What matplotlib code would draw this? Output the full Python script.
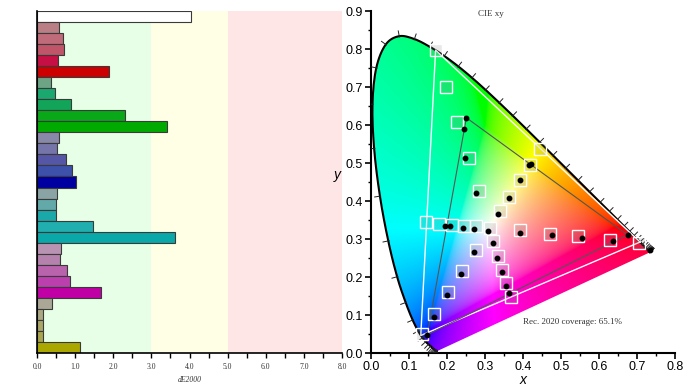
import numpy as np
import matplotlib
matplotlib.use("Agg")
import matplotlib.pyplot as plt
from matplotlib.patches import Polygon
from matplotlib.ticker import MultipleLocator

# dE2000 per patch, top to bottom
de_values = [4.03,
             0.58, 0.67, 0.72, 0.54, 1.90,
             0.36, 0.47, 0.89, 2.31, 3.40,
             0.58, 0.53, 0.77, 0.93, 1.03,
             0.53, 0.49, 0.49, 1.47, 3.62,
             0.64, 0.60, 0.78, 0.86, 1.67,
             0.39, 0.17, 0.15, 0.15, 1.13]
bar_colors = ['#ffffff',
              '#b97f85', '#bf6b79', '#c05468', '#c50f45', '#cc0000',
              '#6ea486', '#1aa86e', '#12a55a', '#08a818', '#00aa00',
              '#8888a8', '#7575a9', '#5656a6', '#3d50aa', '#0000a0',
              '#8aa4a6', '#64a9a9', '#1aa9a9', '#20aeae', '#0aa8a8',
              '#b994b2', '#b581ad', '#b863ac', '#bb40ae', '#c000a5',
              '#aaa796', '#aaa782', '#a9a668', '#a9a54f', '#aaa700']

# CIE 1931 spectral locus, 380-700 nm every 5 nm
locus_x = [0.1741, 0.1740, 0.1738, 0.1736, 0.1733, 0.1730, 0.1726, 0.1721, 0.1714, 0.1703,
           0.1689, 0.1669, 0.1644, 0.1611, 0.1566, 0.1510, 0.1440, 0.1355, 0.1241, 0.1096,
           0.0913, 0.0687, 0.0454, 0.0235, 0.0082, 0.0039, 0.0139, 0.0389, 0.0743, 0.1142,
           0.1547, 0.1929, 0.2296, 0.2658, 0.3016, 0.3373, 0.3731, 0.4087, 0.4441, 0.4788,
           0.5125, 0.5448, 0.5752, 0.6029, 0.6270, 0.6482, 0.6658, 0.6801, 0.6915, 0.7006,
           0.7079, 0.7140, 0.7190, 0.7230, 0.7260, 0.7283, 0.7300, 0.7311, 0.7320, 0.7327,
           0.7334, 0.7340, 0.7344, 0.7346, 0.7347]
locus_y = [0.0050, 0.0050, 0.0049, 0.0049, 0.0048, 0.0048, 0.0048, 0.0048, 0.0051, 0.0058,
           0.0069, 0.0086, 0.0109, 0.0138, 0.0177, 0.0227, 0.0297, 0.0399, 0.0578, 0.0868,
           0.1327, 0.2007, 0.2950, 0.4127, 0.5384, 0.6548, 0.7502, 0.8120, 0.8338, 0.8262,
           0.8059, 0.7816, 0.7543, 0.7243, 0.6923, 0.6589, 0.6245, 0.5896, 0.5547, 0.5202,
           0.4866, 0.4544, 0.4242, 0.3965, 0.3725, 0.3514, 0.3340, 0.3197, 0.3083, 0.2993,
           0.2920, 0.2859, 0.2809, 0.2770, 0.2740, 0.2717, 0.2700, 0.2689, 0.2680, 0.2673,
           0.2666, 0.2660, 0.2656, 0.2654, 0.2653]

rec2020_x = [0.708, 0.170, 0.131]
rec2020_y = [0.292, 0.797, 0.046]
gamut_x = [0.675, 0.251, 0.148]
gamut_y = [0.311, 0.619, 0.048]

target_x = [0.170, 0.198, 0.226, 0.257, 0.283, 0.445, 0.418, 0.392, 0.364, 0.340,
            0.145, 0.179, 0.214, 0.246, 0.277, 0.313, 0.391, 0.472, 0.544, 0.629,
            0.705, 0.322, 0.275, 0.335, 0.240, 0.346, 0.356, 0.368, 0.203, 0.167, 0.133]
target_y = [0.797, 0.700, 0.607, 0.513, 0.426, 0.536, 0.496, 0.454, 0.411, 0.373,
            0.345, 0.340, 0.338, 0.335, 0.333, 0.329, 0.323, 0.314, 0.307, 0.298,
            0.290, 0.294, 0.272, 0.256, 0.216, 0.218, 0.184, 0.148, 0.160, 0.103, 0.049]
meas_x = [0.251, 0.245, 0.247, 0.277, 0.417, 0.420, 0.392, 0.362, 0.335, 0.196,
          0.207, 0.241, 0.272, 0.307, 0.391, 0.477, 0.555, 0.638, 0.675, 0.733,
          0.321, 0.272, 0.331, 0.236, 0.344, 0.356, 0.364, 0.200, 0.165, 0.148]
meas_y = [0.619, 0.590, 0.514, 0.421, 0.496, 0.498, 0.454, 0.408, 0.367, 0.335,
          0.333, 0.329, 0.326, 0.321, 0.317, 0.310, 0.302, 0.295, 0.310, 0.270,
          0.289, 0.266, 0.250, 0.209, 0.212, 0.176, 0.158, 0.152, 0.096, 0.048]

serif = ['Liberation Serif', 'DejaVu Serif']
sans = ['Liberation Sans', 'DejaVu Sans']


def smooth_curve(px, py, steps=8):
    # Catmull-Rom through the locus points so the outline has no corners
    p = np.column_stack([px, py])
    p = np.vstack([p[:1], p, p[-1:]])
    out = []
    for i in range(1, len(p) - 2):
        p0, p1, p2, p3 = p[i - 1], p[i], p[i + 1], p[i + 2]
        for t in np.linspace(0, 1, steps, endpoint=False):
            out.append(0.5 * (2 * p1 + (-p0 + p2) * t
                              + (2 * p0 - 5 * p1 + 4 * p2 - p3) * t ** 2
                              + (-p0 + 3 * p1 - 3 * p2 + p3) * t ** 3))
    out.append(p[-2])
    out = np.array(out)
    return out[:, 0], out[:, 1]


fig = plt.figure(figsize=(6.93, 3.90), dpi=100)

# ---- left: dE2000 bars ----
ax1 = fig.add_axes([37 / 693, 37 / 390, 305 / 693, 342 / 390])
ax1.axvspan(0, 3, color='#e6ffe6', zorder=0, lw=0)
ax1.axvspan(3, 5, color='#ffffe6', zorder=0, lw=0)
ax1.axvspan(5, 8, color='#ffe6e6', zorder=0, lw=0)
n = len(de_values)
pos = np.arange(n)[::-1]
ax1.barh(pos, de_values, height=1.0, color=bar_colors, edgecolor='#3a3a3a',
         linewidth=0.8, zorder=2)
ax1.set_xlim(0, 8)
ax1.set_ylim(-0.5, n - 0.5)
ax1.set_yticks([])
ax1.set_xticks(np.arange(0, 9, 1))
ax1.set_xticklabels(['%.1f' % v for v in range(9)], fontfamily=serif, fontsize=5.5,
                    color='#333333')
ax1.xaxis.set_minor_locator(MultipleLocator(0.5))
ax1.tick_params(axis='x', which='both', length=3.5, width=1, direction='out', pad=4)
ax1.set_xlabel('dE2000', fontfamily=serif, fontstyle='italic', fontsize=5.5,
               color='#333333', labelpad=3)
for s in ['top', 'right']:
    ax1.spines[s].set_visible(False)
for s in ['left', 'bottom']:
    ax1.spines[s].set_linewidth(1.2)

# ---- right: CIE xy diagram ----
ax2 = fig.add_axes([371 / 693, 37 / 390, 304 / 693, 342 / 390])
lx = np.array(locus_x)
ly = np.array(locus_y)
sx, sy = smooth_curve(lx, ly)

gx, gy = np.meshgrid(np.linspace(0, 0.8, 400), np.linspace(0, 0.9, 450))
gy_safe = np.maximum(gy, 1e-4)
X = gx / gy_safe
Y = np.ones_like(gx)
Z = (1 - gx - gy) / gy_safe
M = np.array([[3.2406, -1.5372, -0.4986],
              [-0.9689, 1.8758, 0.0415],
              [0.0557, -0.2040, 1.0570]])
rgb = np.einsum('ij,jkl->kli', M, np.stack([X, Y, Z]))
# pull out-of-gamut colours partly towards white, clip the rest
rgb = rgb - 0.5 * np.minimum(rgb.min(axis=2, keepdims=True), 0)
rgb = np.clip(rgb, 0, None)
rgb = rgb / np.maximum(rgb.max(axis=2, keepdims=True), 1e-6)
rgb = np.where(rgb <= 0.0031308, 12.92 * rgb, 1.055 * rgb ** (1 / 2.4) - 0.055)
rgb = np.clip(rgb, 0, 1)

poly = Polygon(np.column_stack([sx, sy]), closed=True, facecolor='none',
               edgecolor='none', transform=ax2.transData)
ax2.add_patch(poly)
im = ax2.imshow(rgb, origin='lower', extent=[0, 0.8, 0, 0.9], aspect='auto',
                interpolation='bilinear', zorder=1)
im.set_clip_path(poly)

ax2.plot(sx, sy, color='black', lw=1.5, zorder=3, solid_capstyle='butt')

# wavelength ticks along the locus
dx = np.gradient(lx)
dy = np.gradient(ly)
norm = np.hypot(dx, dy)
norm[norm == 0] = 1
nx = -dy / norm
ny = dx / norm
for i in range(len(lx)):
    ax2.plot([lx[i] - 0.002 * nx[i], lx[i] + 0.014 * nx[i]],
             [ly[i] - 0.002 * ny[i], ly[i] + 0.014 * ny[i]],
             color='#222222', lw=0.7, zorder=3)

ax2.plot(rec2020_x + rec2020_x[:1], rec2020_y + rec2020_y[:1], color='white',
         lw=1.0, zorder=4)
ax2.plot(gamut_x + gamut_x[:1], gamut_y + gamut_y[:1], color='#555555',
         lw=0.8, zorder=4)
ax2.plot(target_x, target_y, ls='none', marker='s', markersize=8,
         markerfacecolor=(0.5, 0.5, 0.5, 0.18), markeredgecolor='white',
         markeredgewidth=1.0, zorder=5)
ax2.plot(meas_x, meas_y, ls='none', marker='o', markersize=3.2, color='black',
         zorder=6)

ax2.text(0.315, 0.893, 'CIE xy', ha='center', va='center', fontfamily=serif,
         fontsize=6.5, color='#333333')
ax2.text(0.400, 0.081, 'Rec. 2020 coverage: 65.1%', ha='left', va='center',
         fontfamily=serif, fontsize=6.5, color='#333333')

ax2.set_xlim(0, 0.8)
ax2.set_ylim(0, 0.9)
ax2.set_xticks(np.arange(0, 0.81, 0.1))
ax2.set_yticks(np.arange(0, 0.91, 0.1))
ax2.set_xticklabels(['%.1f' % v for v in np.arange(0, 0.81, 0.1)], fontfamily=sans,
                    fontsize=9)
ax2.set_yticklabels(['%.1f' % v for v in np.arange(0, 0.91, 0.1)], fontfamily=sans,
                    fontsize=9)
ax2.xaxis.set_minor_locator(MultipleLocator(0.05))
ax2.yaxis.set_minor_locator(MultipleLocator(0.05))
ax2.tick_params(which='major', length=4, width=1.2, direction='out', pad=2)
ax2.tick_params(which='minor', length=2.5, width=1.0, direction='out')
ax2.set_xlabel('x', fontfamily=sans, fontstyle='italic', fontsize=10, labelpad=0)
ax2.set_ylabel('y', fontfamily=sans, fontstyle='italic', fontsize=10, labelpad=6,
               rotation=0)
for s in ['top', 'right']:
    ax2.spines[s].set_visible(False)
for s in ['left', 'bottom']:
    ax2.spines[s].set_linewidth(1.5)

fig.savefig('out.png', dpi=100)
